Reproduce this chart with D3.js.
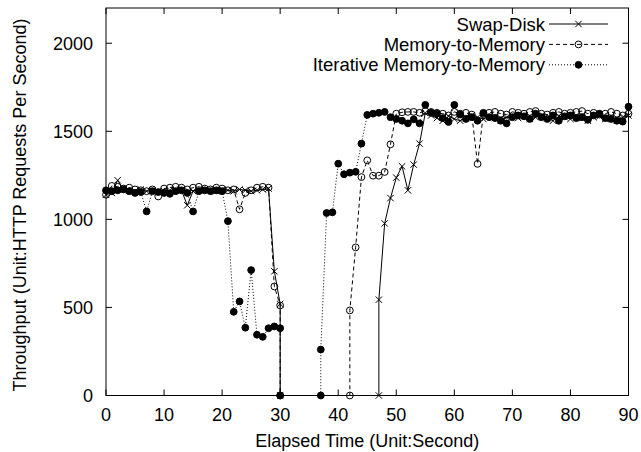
<!DOCTYPE html>
<html>
<head>
<meta charset="utf-8">
<script src="https://cdn.jsdelivr.net/npm/d3@7"></script>
<style>
  body { margin: 0; background: #fff; }
  svg { display: block; font-family: "Liberation Sans", Arial, sans-serif; }
</style>
</head>
<body>
<svg id="chart" width="641" height="452"></svg>
<script>
// throughput per second, t = 0..30 (before migration)
const swapEarly = [1140, 1150, 1222, 1170, 1165, 1160, 1170, 1160, 1165, 1155, 1160, 1165, 1170, 1165, 1080, 1160,
    1165, 1170, 1165, 1160, 1170, 1165, 1160, 1170, 1165, 1160, 1165, 1170, 1175, 705, 520];
const memEarly = [1140, 1190, 1185, 1175, 1180, 1170, 1165, 1160, 1170, 1130, 1175, 1180, 1185, 1180, 1170, 1180,
    1185, 1175, 1170, 1180, 1175, 1165, 1170, 1057, 1150, 1165, 1180, 1185, 1180, 619, 511];
const iterEarly = [1165, 1160, 1165, 1170, 1160, 1150, 1155, 1045, 1160, 1155, 1150, 1145, 1160, 1165, 1150, 1045,
    1160, 1165, 1160, 1165, 1160, 990, 475, 534, 385, 712, 345, 333, 382, 392, 382];

// second at which each service comes back
const restartTimes = [47, 42, 37];

// throughput per second from restart time to t = 90
const swapLate = [544, 977, 1121, 1237, 1301, 1165, 1311, 1430,
    1604, 1590, 1575, 1560, 1585, 1570, 1560, 1575, 1590, 1580, 1570, 1585, 1575, 1560, 1580, 1590, 1575, 1585,
    1570, 1580, 1590, 1575, 1560, 1585, 1580, 1570, 1590, 1575, 1560, 1580, 1585, 1570, 1575, 1560, 1580, 1590];
const memLate = [483, 841, 1240, 1335, 1248, 1248, 1269, 1426,
    1600, 1608, 1610, 1610, 1605,
    1615, 1610, 1605, 1600, 1590, 1610, 1600, 1605, 1595, 1315, 1600, 1605, 1610, 1600, 1595, 1610, 1605, 1600,
    1610, 1615, 1600, 1595, 1605, 1610, 1600, 1605, 1610, 1615, 1600, 1605, 1595, 1600, 1610, 1600, 1590, 1600];
const iterLate = [261, 1036, 1040, 1316, 1256, 1265, 1270, 1430,
    1593, 1600, 1605, 1610, 1580, 1570, 1560, 1545, 1568, 1545,
    1650, 1605, 1600, 1575, 1553, 1650, 1595, 1570, 1580, 1560, 1605, 1580, 1575, 1560, 1545, 1580, 1590, 1585,
    1570, 1600, 1580, 1570, 1590, 1560, 1585, 1590, 1575, 1580, 1565, 1590, 1600, 1575, 1570, 1560, 1555, 1640];

const seriesNames = ["Swap-Disk", "Memory-to-Memory", "Iterative Memory-to-Memory"];
const xTicks = [0, 10, 20, 30, 40, 50, 60, 70, 80, 90];
const yTicks = [0, 500, 1000, 1500, 2000];

const svg = d3.select("#chart");
const width = 641, height = 452;
const margin = {top: 8, right: 12.5, bottom: 56.5, left: 106};
const fontSize = 18;

const x = d3.scaleLinear().domain([0, 90]).range([margin.left, width - margin.right]);
const y = d3.scaleLinear().domain([0, 2200]).range([height - margin.bottom, margin.top]);

function buildSeries(early, restart, late) {
    const pts = early.map((v, i) => ({t: i, v: v}));
    pts.push({t: 30, v: 0});
    pts.push({t: restart, v: 0});
    late.forEach((v, i) => pts.push({t: restart + i, v: v}));
    return pts;
}

const series = [
    {name: seriesNames[0], dash: null, marker: "cross", pts: buildSeries(swapEarly, restartTimes[0], swapLate)},
    {name: seriesNames[1], dash: "4,3", marker: "open", pts: buildSeries(memEarly, restartTimes[1], memLate)},
    {name: seriesNames[2], dash: "1,2", marker: "filled", pts: buildSeries(iterEarly, restartTimes[2], iterLate)}
];

// frame ticks, mirrored on all four sides
const x0 = x.range()[0], x1 = x.range()[1], y0 = y.range()[0], y1 = y.range()[1];
const tickLen = 6;

const axisG = svg.append("g").attr("stroke", "#000").attr("stroke-width", 1);
xTicks.forEach(t => {
    axisG.append("line").attr("x1", x(t)).attr("x2", x(t)).attr("y1", y0).attr("y2", y0 - tickLen);
    axisG.append("line").attr("x1", x(t)).attr("x2", x(t)).attr("y1", y1).attr("y2", y1 + tickLen);
});
yTicks.forEach(t => {
    axisG.append("line").attr("x1", x0).attr("x2", x0 + tickLen).attr("y1", y(t)).attr("y2", y(t));
    axisG.append("line").attr("x1", x1).attr("x2", x1 - tickLen).attr("y1", y(t)).attr("y2", y(t));
});

svg.selectAll(".xlab").data(xTicks).enter().append("text")
    .attr("x", d => x(d)).attr("y", y0 + 25)
    .attr("text-anchor", "middle").attr("font-size", fontSize)
    .text(d => d);
svg.selectAll(".ylab").data(yTicks).enter().append("text")
    .attr("x", x0 - 13).attr("y", d => y(d) + 6.5)
    .attr("text-anchor", "end").attr("font-size", fontSize)
    .text(d => d);

svg.append("text")
    .attr("x", (x0 + x1) / 2).attr("y", 447)
    .attr("text-anchor", "middle").attr("font-size", fontSize)
    .text("Elapsed Time (Unit:Second)");
svg.append("text")
    .attr("transform", "translate(26,205) rotate(-90)")
    .attr("text-anchor", "middle").attr("font-size", fontSize)
    .text("Throughput (Unit:HTTP Requests Per Second)");

// series
const line = d3.line().x(d => x(d.t)).y(d => y(d.v));

function drawMarker(g, kind, cx, cy) {
    if (kind === "cross") {
        const s = 3.2;
        g.append("path")
            .attr("d", `M${cx - s},${cy - s}L${cx + s},${cy + s}M${cx - s},${cy + s}L${cx + s},${cy - s}`)
            .attr("stroke", "#000").attr("stroke-width", 1).attr("fill", "none");
    } else {
        g.append("circle").attr("cx", cx).attr("cy", cy).attr("r", 3.4)
            .attr("stroke", "#000").attr("stroke-width", 1)
            .attr("fill", kind === "filled" ? "#000" : "none");
    }
}

series.forEach(s => {
    const g = svg.append("g");
    g.append("path").datum(s.pts)
        .attr("d", line)
        .attr("fill", "none").attr("stroke", "#000").attr("stroke-width", 1)
        .attr("stroke-dasharray", s.dash);
    s.pts.forEach(p => drawMarker(g, s.marker, x(p.t), y(p.v)));
});

// legend, top right inside the frame
const legend = svg.append("g");
series.forEach((s, i) => {
    const ly = 24 + i * 20.4;
    legend.append("text").attr("x", 545).attr("y", ly + 6.5)
        .attr("text-anchor", "end").attr("font-size", 18.5).text(s.name);
    legend.append("line").attr("x1", 549).attr("x2", 608).attr("y1", ly).attr("y2", ly)
        .attr("stroke", "#000").attr("stroke-width", 1).attr("stroke-dasharray", s.dash);
    drawMarker(legend, s.marker, 578.5, ly);
});

svg.append("rect").attr("x", x0).attr("y", y1).attr("width", x1 - x0).attr("height", y0 - y1)
    .attr("fill", "none").attr("stroke", "#000").attr("stroke-width", 1);
</script>
</body>
</html>
